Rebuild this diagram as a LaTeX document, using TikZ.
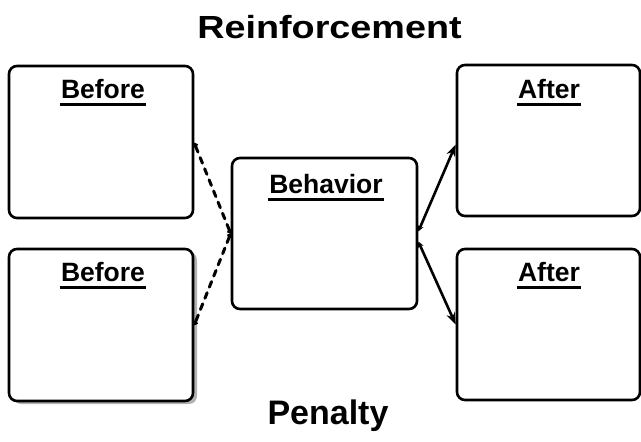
\documentclass[tikz,border=0pt]{standalone}
\usepackage{fontspec}
\setmainfont{Liberation Sans}
\usetikzlibrary{arrows.meta,shadows}
\begin{document}
\begin{tikzpicture}[x=1pt,y=-1pt,
  box/.style={draw,line width=2.6pt,rounded corners=8pt,fill=white,inner sep=0pt},
  lbl/.style={font=\fontsize{26.5}{30}\selectfont\bfseries,inner sep=0pt,anchor=base},
  title/.style={font=\fontsize{32}{36}\selectfont\bfseries,inner sep=0pt,anchor=base},
  uline/.style={line width=3pt},
  dashcon/.style={line width=3pt,dash pattern=on 6pt off 6pt,line cap=round,
    {Circle[length=5pt]}-{Circle[length=5pt]}},
  solidcon/.style={line width=2.6pt,{Stealth[length=6pt,width=6pt]}-{Stealth[length=12pt,width=9pt]}},
  shadowed/.style={drop shadow={shadow xshift=4pt,shadow yshift=-3pt,fill=gray!60,opacity=1}}]
\useasboundingbox (0,0) rectangle (641,442);

% titles
\node[title] (rt) at (329.5,38) {\scalebox{1.18}[1]{Reinforcement}};
\node[title,font=\fontsize{34}{38}\selectfont\bfseries] (pt) at (328,424) {Penalty};

% boxes
\node[box,minimum width=184pt,minimum height=152pt] (b1) at (101,142) {};
\node[box,shadowed,minimum width=184pt,minimum height=152pt] (b2) at (101,325) {};
\node[box,minimum width=185pt,minimum height=151pt] (beh) at (324.5,233.5) {};
\node[box,minimum width=183pt,minimum height=151pt] (a1) at (548.5,140.5) {};
\node[box,minimum width=183pt,minimum height=151pt] (a2) at (548.5,324.5) {};

% labels
\node[lbl] (lb1) at (103,98) {Before};
\node[lbl] (lb2) at (103,281) {Before};
\node[lbl] (lbeh) at (326,193) {Behavior};
\node[lbl] (la1) at (549,98) {After};
\node[lbl] (la2) at (549,281) {After};
\foreach \n in {lb1,lb2,lbeh,la1,la2}{
  \draw[uline] ([xshift=-1pt,yshift=-6pt]\n.base west) -- ([xshift=1pt,yshift=-6pt]\n.base east);
}

% connectors
\draw[dashcon] ([yshift=-1pt]b1.east) -- (beh.west);
\draw[dashcon] (beh.west) -- (b2.east);
\draw[solidcon] ([yshift=2pt]beh.east) -- ([yshift=-4pt]a1.west);
\draw[solidcon] ([yshift=-8pt]beh.east) -- (a2.west);
\end{tikzpicture}
\end{document}
